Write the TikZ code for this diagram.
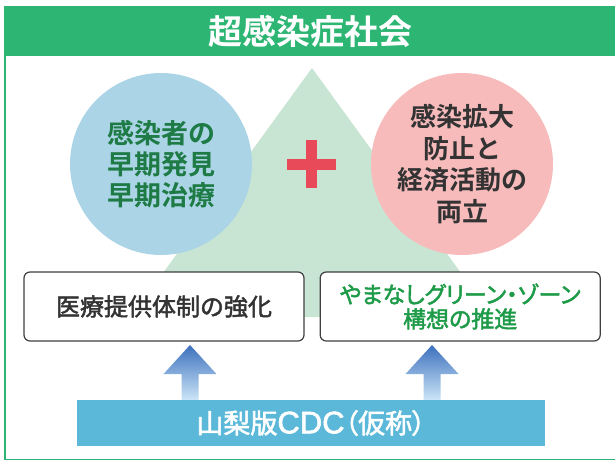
\documentclass[tikz,border=0pt]{standalone}
\usepackage{fontspec}
\setmainfont{Noto Sans CJK JP}[BoldFont={Noto Sans CJK JP Bold}]
\newfontfamily\medfont{Noto Sans CJK JP}[FakeBold=2]
\newfontfamily\medpalt{Noto Sans CJK JP}[FakeBold=2, RawFeature=+palt]
\newfontfamily\latinfont{Liberation Sans}[FakeBold=2]
\usetikzlibrary{positioning, calc}

\definecolor{bandgreen}{HTML}{2DB673}
\definecolor{trigreen}{HTML}{C8E4D3}
\definecolor{circblue}{HTML}{ABD5E7}
\definecolor{circpink}{HTML}{F7BBBC}
\definecolor{plusred}{HTML}{E84A5A}
\definecolor{textgreen}{HTML}{1E7B45}
\definecolor{zonegreen}{HTML}{1E9B48}
\definecolor{darktext}{HTML}{333333}
\definecolor{boxgray}{HTML}{404040}
\definecolor{cdcblue}{HTML}{5BB8D8}
\definecolor{arrowtop}{HTML}{3D71BD}
\definecolor{arrowbot}{HTML}{CBE4F7}

% fat shaded arrow: #1 foot, #2 tip
\newcommand\fatarrow[2]{%
  \shade[uparrow] let \p1=(#1), \p2=(#2) in
    (\x2,\y2) -- (\x2+26.5pt,\y2-29pt) -- (\x2+8.5pt,\y2-29pt) -- (\x2+8.5pt,\y1)
    -- (\x2-8.5pt,\y1) -- (\x2-8.5pt,\y2-29pt) -- (\x2-26.5pt,\y2-29pt) -- cycle;}

\begin{document}
\begin{tikzpicture}[
x=1pt, y=-1pt,
circ/.style={circle,
minimum size=182pt,
inner sep=0pt,
align=center,
font=\bfseries\fontsize{27}{31}\selectfont},
box/.style={draw=boxgray,
line width=1.2pt,
rounded corners=6pt,
fill=white,
minimum width=280pt,
minimum height=69pt,
align=center},
uparrow/.style={top color=arrowtop, bottom color=arrowbot}
]
\useasboundingbox (0,0) rectangle (615,461);

% frame and title band
\draw[bandgreen, line width=1.5pt] (5,56) -- (5,459.5) -- (616,459.5);
\fill[bandgreen] (4,6) rectangle (616,56);
\node[text=white, font=\bfseries\fontsize{34}{40}\selectfont] (title) at (310,31) {超感染症社会};

% triangle
\fill[trigreen] (312,68) -- (493,317) -- (131,317) -- cycle;

\node[circ, fill=circblue, text=textgreen] (early) at (161,164) {感染者の\\早期発見\\早期治療};
\node[circ, fill=circpink, text=darktext, font=\bfseries\fontsize{26}{31.5}\selectfont] (balance) at (462,164) {感染拡大\\防止と\\経済活動の\\両立};

% plus
\fill[plusred] (287,159) rectangle (336,170);
\fill[plusred] (306,140) rectangle (317,188);

\node[box, text=darktext, font=\medfont\fontsize{24}{28}\selectfont] (medical) at (164,306.5) {医療提供体制の強化};
\node[box, right=15pt of medical, text=zonegreen, font=\medpalt\fontsize{23}{24.5}\selectfont] (zone) {やまなしグリーン・ゾーン\\構想の推進};

\coordinate (tipL) at (190,345);
\coordinate (tipR) at (432,345);
\node[fill=cdcblue, text=white, minimum width=468pt, minimum height=46pt, inner sep=0pt, font=\medpalt\fontsize{27}{30}\selectfont] (cdc) at (311,423) {山梨版{\latinfont\fontsize{31}{30}\selectfont CDC}（仮称）};

\fatarrow{tipL |- cdc.north}{tipL}
\fatarrow{tipR |- cdc.north}{tipR}

\end{tikzpicture}
\end{document}
